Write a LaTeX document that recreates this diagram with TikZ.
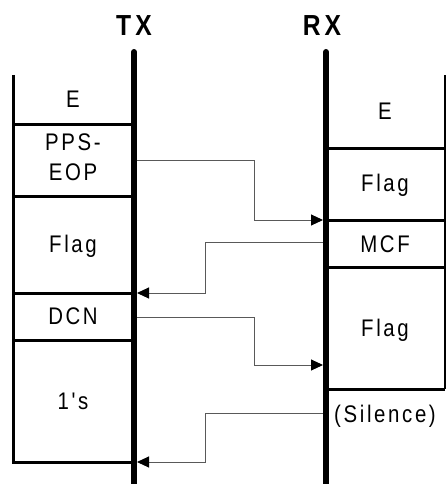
\documentclass[tikz,border=0pt]{standalone}
\usepackage{fontspec}
\newfontfamily\lblfont[FakeStretch=0.85,LetterSpace=11,Ligatures=TeXOff]{Liberation Sans}
\newfontfamily\headfont[FakeStretch=0.85,LetterSpace=14]{Liberation Sans}
\usetikzlibrary{arrows.meta}

\begin{document}
\begin{tikzpicture}
    [
        x=1pt, y=-1pt,
        life/.style={line width=6pt, line cap=round},
        frame/.style={line width=3pt},
        msg/.style={draw=black!65, line width=1pt, -{Triangle[length=12pt, width=11pt, color=black]}},
        cell/.style={font=\lblfont\fontsize{24}{30}\selectfont, align=center, inner sep=0pt, anchor=base},
        head/.style={font=\headfont\bfseries\fontsize{29}{30}\selectfont, inner sep=0pt}
    ]
        \useasboundingbox (0,0) rectangle (446,484);
        % =========================================================================
        % NODES
        % =========================================================================
        % --- Headers ---
        \node [head] (tx) at (134,26) {TX};
        \node [head] (rx) at (322,26) {RX};
        % --- Lifelines ---
        \coordinate (txtop) at (134,52);
        \coordinate (txbot) at (134,492);
        \coordinate (rxtop) at (326,52);
        \coordinate (rxbot) at (326,492);
        % --- TX side ---
        \node [cell] (txe) at (73,108) {E};
        \node [cell, anchor=center] (ppseop) at (73,157.5) {PPS-\\EOP};
        \node [cell] (txflag) at (73,252) {Flag};
        \node [cell] (dcn) at (73,324) {DCN};
        \node [cell] (ones) at (73,409) {1's};
        % --- RX side ---
        \node [cell] (rxe) at (385,119) {E};
        \node [cell] (rxflag1) at (385,191) {Flag};
        \node [cell] (mcf) at (385,252) {MCF};
        \node [cell] (rxflag2) at (385,336) {Flag};
        \node [cell] (silence) at (385,422) {(Silence)};
        % --- Message bends ---
        \coordinate (m1a) at (137,160);
        \coordinate (m1b) at (323,220);
        \coordinate (m2a) at (323,242);
        \coordinate (m2b) at (137,293);
        \coordinate (m3a) at (137,317);
        \coordinate (m3b) at (323,365);
        \coordinate (m4a) at (323,413);
        \coordinate (m4b) at (137,462);
        \coordinate (fwd) at (254,0);
        \coordinate (bwd) at (205,0);

        % =========================================================================
        % PATHS
        % =========================================================================
        % --- Frames ---
        \draw [frame] (13,75) -- (13,462) -- (txbot |- 0,462);
        \foreach \y in {124,196,293,340}
            \draw [frame] (13,\y) -- (txbot |- 0,\y);
        \draw [frame] (445,75) -- (445,389);
        \foreach \y in {148,220,267,389}
            \draw [frame] (rxbot |- 0,\y) -- (445,\y);
        % --- Lifelines ---
        \draw [life] (txtop) -- (txbot);
        \draw [life] (rxtop) -- (rxbot);
        % --- Messages ---
        \draw [msg] (m1a) -| (fwd |- m1b) -- (m1b);
        \draw [msg] (m2a) -| (bwd |- m2b) -- (m2b);
        \draw [msg] (m3a) -| (fwd |- m3b) -- (m3b);
        \draw [msg] (m4a) -| (bwd |- m4b) -- (m4b);

    \end{tikzpicture}
\end{document}
